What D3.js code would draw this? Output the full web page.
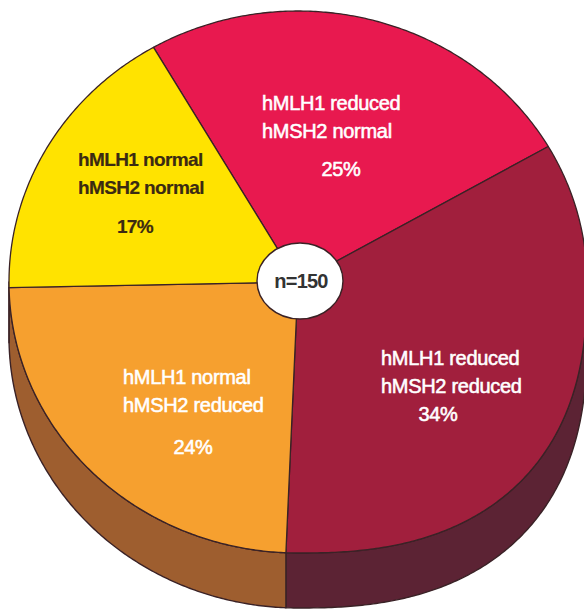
<!DOCTYPE html>
<html>
<head>
<meta charset="utf-8">
<script src="https://cdn.jsdelivr.net/npm/d3@7"></script>
<style>
  html, body { margin: 0; padding: 0; background: #ffffff; }
  svg { display: block; }
  text { font-family: "Liberation Sans", Arial, Helvetica, sans-serif; }
</style>
</head>
<body>
<svg id="chart" width="584" height="609"></svg>
<script>
// ---- data ----
const categories = [
  "hMLH1 reduced / hMSH2 normal",
  "hMLH1 reduced / hMSH2 reduced",
  "hMLH1 normal / hMSH2 reduced",
  "hMLH1 normal / hMSH2 normal"
];
const labelLines = [
  ["hMLH1 reduced", "hMSH2 normal"],
  ["hMLH1 reduced", "hMSH2 reduced"],
  ["hMLH1 normal", "hMSH2 reduced"],
  ["hMLH1 normal", "hMSH2 normal"]
];
const percentages = [25, 34, 24, 17];
const sampleSize = 150;

// ---- styling ----
const topColors  = ["#e8194f", "#a11f3d", "#f6a02f", "#ffe300"];
const sideColors = ["#a8123a", "#5c2334", "#9e5e2f", "#b89a00"];
const textColors = ["#ffffff", "#ffffff", "#ffffff", "#3b2a12"];
const outline = "#3a2226";

// label placement: left edge of the two text lines, first baseline,
// and centre/baseline of the percentage
const labelLayout = [
  { x: 262, y: 110, px: 341, py: 176 },
  { x: 381, y: 365, px: 438, py: 421 },
  { x: 123, y: 384, px: 193, py: 454 },
  { x: 78,  y: 166, px: 135, py: 233 }
];

// ---- geometry of the tilted disc ----
const cx = 298, cy = 282, rx = 289, ry = 271, depth = 55;

// project an angle (clockwise from 12 o'clock) onto the disc rim;
// the lower-right quarter of the rim is slightly squarer
function rim(theta, dy = 0) {
  const s = Math.sin(theta), c = Math.cos(theta);
  let sx = s, cy_ = c;
  if (s > 0 && c < 0) {
    const e = 2 / 2.45;
    sx = Math.pow(s, e);
    cy_ = -Math.pow(-c, e);
  }
  return [cx + rx * sx, cy - ry * cy_ + dy];
}

function rimPoints(a0, a1, dy = 0) {
  const n = Math.max(2, Math.ceil(Math.abs(a1 - a0) / (Math.PI / 360)));
  return d3.range(n + 1).map(i => rim(a0 + (a1 - a0) * i / n, dy));
}

const pie = d3.pie()
  .sort(null)
  .value(d => d)
  .startAngle(-Math.PI / 6)
  .endAngle(2 * Math.PI - Math.PI / 6);
const arcs = pie(percentages);

const line = d3.line().curve(d3.curveLinear);
const svg = d3.select("#chart");

// ---- sides (only the front half of the rim is visible) ----
const frontLo = Math.PI / 2, frontHi = 3 * Math.PI / 2;
const sides = svg.append("g");
arcs.forEach((a, i) => {
  const lo = Math.max(a.startAngle, frontLo);
  const hi = Math.min(a.endAngle, frontHi);
  if (hi - lo <= 0.001) return;
  const pts = rimPoints(lo, hi).concat(rimPoints(hi, lo, depth));
  sides.append("path")
    .attr("d", line(pts) + "Z")
    .attr("fill", sideColors[i])
    .attr("stroke", outline)
    .attr("stroke-width", 1.4)
    .attr("stroke-linejoin", "round");
});

// ---- top face ----
const tops = svg.append("g");
arcs.forEach((a, i) => {
  const pts = [[cx, cy]].concat(rimPoints(a.startAngle, a.endAngle));
  tops.append("path")
    .attr("d", line(pts) + "Z")
    .attr("fill", topColors[i])
    .attr("stroke", outline)
    .attr("stroke-width", 1.3)
    .attr("stroke-linejoin", "round");
});

// ---- labels ----
const labels = svg.append("g");
arcs.forEach((a, i) => {
  const L = labelLayout[i];
  const dark = i === 3;
  const g = labels.append("g")
    .attr("fill", textColors[i])
    .attr("stroke", textColors[i])
    .attr("stroke-width", dark ? 0.2 : 0.55)
    .attr("font-size", dark ? 19 : 20)
    .attr("font-weight", dark ? "bold" : "normal")
    .attr("letter-spacing", dark ? -0.6 : -0.3);
  labelLines[i].forEach((t, k) => {
    g.append("text").attr("x", L.x).attr("y", L.y + k * 28).text(t);
  });
  g.append("text")
    .attr("x", L.px).attr("y", L.py)
    .attr("text-anchor", "middle")
    .text(a.data + "%");
});

// ---- centre badge ----
svg.append("ellipse")
  .attr("cx", cx + 2).attr("cy", cy - 1)
  .attr("rx", 43).attr("ry", 38)
  .attr("fill", "#ffffff")
  .attr("stroke", outline)
  .attr("stroke-width", 1.4);
svg.append("text")
  .attr("x", cx + 3).attr("y", cy + 6)
  .attr("text-anchor", "middle")
  .attr("font-size", 20)
  .attr("font-weight", "bold")
  .attr("letter-spacing", -0.8)
  .attr("fill", "#333333")
  .text("n=" + sampleSize);
</script>
</body>
</html>
